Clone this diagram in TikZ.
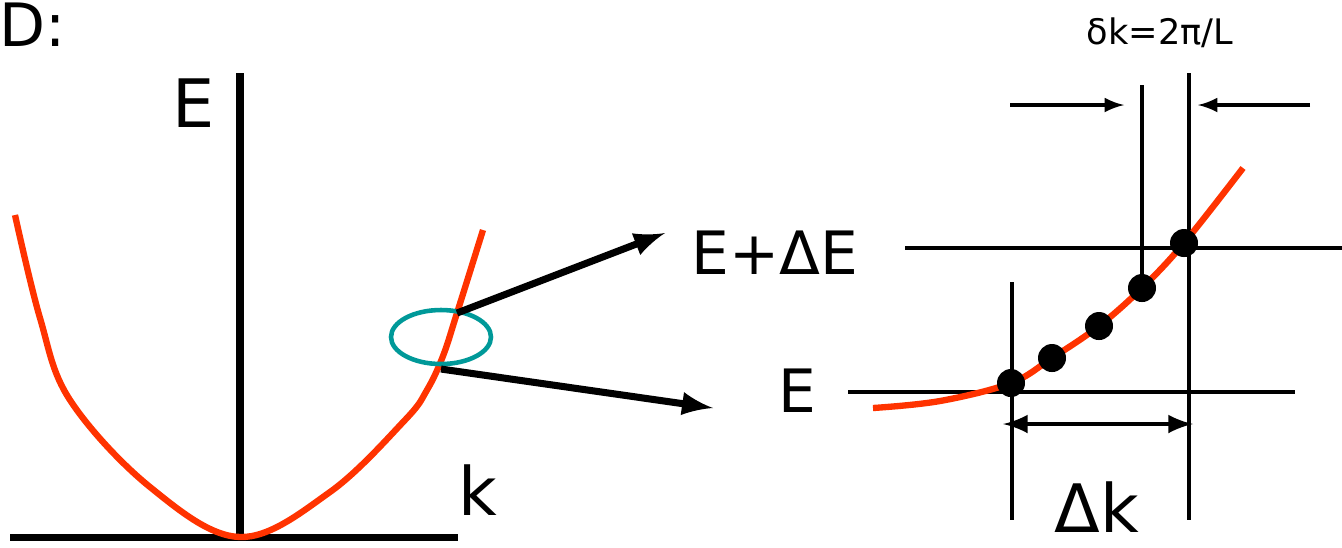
\documentclass[tikz,border=0pt]{standalone}
\usepackage{fontspec}
\setmainfont{DejaVu Sans}
\definecolor{curvered}{RGB}{255,51,0}
\definecolor{ringteal}{RGB}{0,153,153}
\tikzset{
  axis/.style={line width=2pt},
  band/.style={line width=0.9pt},
  curve/.style={curvered, line width=1.8pt},
  state/.style={circle, fill=black, inner sep=0pt, minimum size=0.28cm},
  bigtext/.style={font=\fontsize{19}{22}\selectfont}
}
\begin{document}
\begin{tikzpicture}[x=0.01cm, y=-0.01cm]
  \useasboundingbox (0,0) rectangle (1342,547);
  % labels
  \node[bigtext, font=\fontsize{17}{20}\selectfont] (title) at (33,25) {D:};
  \node[bigtext] (Elab) at (194,103) {E};
  \node[bigtext] (klab) at (478,490) {k};
  \node[bigtext, font=\fontsize{17}{20}\selectfont] (EdE) at (775,253) {E+ΔE};
  \node[bigtext, font=\fontsize{17}{20}\selectfont] (Er) at (797,391) {E};
  \node[font=\fontsize{10}{12}\selectfont] (dk) at (1160,33) {δk=2π/L};
  \node[bigtext] (Dk) at (1097,507) {Δk};
  % axes
  \draw[axis] (10,537) -- (458,537);
  \draw[axis] (240,73) -- (240,537);
  % dispersion E(k)
  \draw[curve] plot[smooth, tension=0.6] coordinates {(15,215) (40,318) (70,400) (150,487) (240,537)
    (330,492) (405,420) (427,390) (443,356) (457,313) (483,230)};
  % zoom ring
  \draw[ringteal, line width=1.3pt] (441,337) ellipse [x radius=50, y radius=27];
  \coordinate (up) at (457,313);
  \coordinate (dn) at (441,369);
  \coordinate (upend) at (665,233);
  \coordinate (dnend) at (713,408);
  \draw[axis, -latex] (up) -- (upend);
  \draw[axis, -latex] (dn) -- (dnend);
  % levels and k grid
  \draw[band] (905,248) -- (1342,248);
  \draw[band] (848,392) -- (1295,392);
  \draw[band] (1012,282) -- (1012,520);
  \draw[band] (1189,73) -- (1189,520);
  \draw[band] (1142,85) -- (1142,290);
  % spacing arrows
  \coordinate (la) at (1010,105);
  \coordinate (lb) at (1124,105);
  \coordinate (ra) at (1310,105);
  \coordinate (rb) at (1198,105);
  \draw[band, -latex] (la) -- (lb);
  \draw[band, -latex] (ra) -- (rb);
  % zoomed branch
  \draw[curve] plot[smooth, tension=0.6] coordinates {(873,408) (940,401) (1011,383) (1052,358)
    (1099,326) (1142,288) (1184,243) (1243,168)};
  \foreach \n/\p in {1/{(1011,383)}, 2/{(1052,358)}, 3/{(1099,326)}, 4/{(1142,288)}, 5/{(1184,243)}}
    \node[state] (s\n) at \p {};
  % width of band
  \coordinate (wa) at (1003,424);
  \coordinate (wb) at (1193,424);
  \draw[line width=1.4pt, latex-latex] (wa) -- (wb);
\end{tikzpicture}
\end{document}
